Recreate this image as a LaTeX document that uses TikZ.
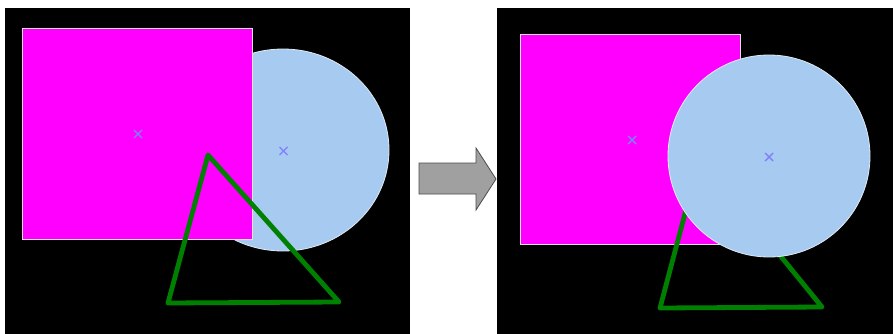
\documentclass[tikz,border=0pt]{standalone}
\begin{document}
\begin{tikzpicture}[x=1pt,y=-1pt,
  panel/.style={fill=black,draw=none},
  sq/.style={fill={rgb,255:red,255;green,0;blue,255},draw={rgb,255:red,225;green,225;blue,225},line width=1pt},
  disc/.style={fill={rgb,255:red,166;green,202;blue,240},draw={rgb,255:red,225;green,235;blue,245},line width=0.8pt},
  tri/.style={draw={rgb,255:red,0;green,128;blue,0},line width=4.8pt,line join=round},
  crossmark/.style={draw={rgb,255:red,128;green,128;blue,255},line width=1.4pt},
  bigarrow/.style={fill={rgb,255:red,160;green,160;blue,160},draw=black!70,line width=0.8pt,line join=miter}]
\useasboundingbox (0,0) rectangle (893,334);
\fill[white] (0,0) rectangle (893,334);
% left panel
\fill[panel] (5,8) rectangle (410,334);
\filldraw[disc] (283,150) ellipse [x radius=106, y radius=101];
\filldraw[sq] (22,28.5) rectangle (252.5,239);
\draw[tri] (208,155) -- (168,303) -- (339,302) -- cycle;
\draw[crossmark] (134,130) -- (142,138) (134,138) -- (142,130);
\draw[crossmark] (279.5,147) -- (287.5,155) (279.5,155) -- (287.5,147);
% arrow
\filldraw[bigarrow] (419,163) -- (476,163) -- (476,148) -- (496,179) -- (476,210) -- (476,194) -- (419,194) -- cycle;
% right panel
\fill[panel] (497,8) rectangle (893,334);
\filldraw[sq] (520.7,35) rectangle (740,244);
\draw[tri] (700,157) -- (660,308) -- (822,307) -- cycle;
\filldraw[disc] (769,156) circle [radius=101];
\draw[crossmark] (628,136) -- (636,144) (628,144) -- (636,136);
\draw[crossmark] (765,153) -- (773,161) (765,161) -- (773,153);
\end{tikzpicture}
\end{document}
